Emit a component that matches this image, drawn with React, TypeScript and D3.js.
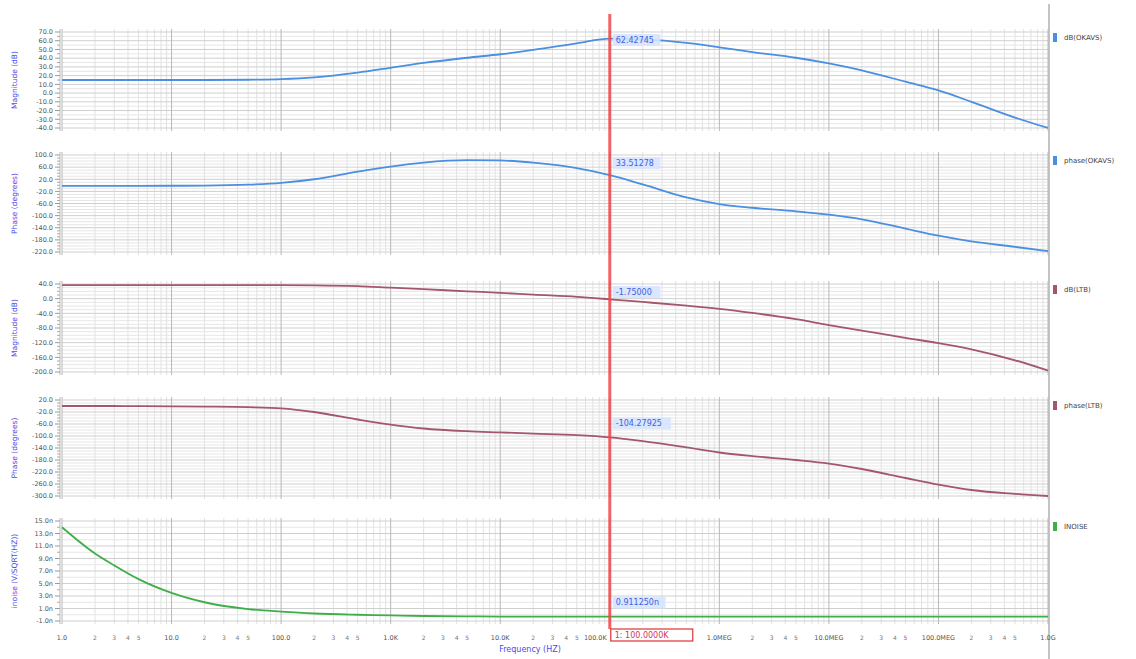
import React from "react";
import * as d3 from "d3";

const freqs = [1, 2, 3, 5, 10, 20, 50, 100, 200, 500, 1e3, 2e3, 5e3, 1e4, 2e4, 5e4, 1e5, 2e5, 5e5, 1e6, 2e6, 5e6, 1e7, 2e7, 5e7, 1e8, 2e8, 5e8, 1e9];

const magOKAVS = [15, 15, 15, 15, 15, 15, 15.3, 16, 18, 23.5, 29, 34.5, 40.5, 44.5, 49.5, 57, 62.4, 61.5, 57.5, 52.5, 47, 40.5, 34, 26, 13, 3, -10, -28, -40];
const phaseOKAVS = [-2, -2, -2, -2, -1.5, -1, 2, 8, 20, 45, 62, 75, 83, 82, 75, 57, 33.5, 3, -40, -62, -74, -86, -97, -112, -143, -166, -185, -203, -217];
const magLTB = [37, 37, 37, 37, 37, 37, 37, 37, 36.5, 34, 30, 26, 20, 16, 11, 5, -1.75, -9, -19, -28, -39, -56, -72, -87, -107, -121, -138, -168, -196];
const phaseLTB = [0, 0, 0, -0.5, -1, -2, -4, -8, -20, -45, -62, -75, -84, -88, -92, -97, -104.3, -117, -138, -155, -167, -180, -192, -210, -240, -262, -280, -293, -300];
const inoise = [14.0, 9.8, 7.9, 5.7, 3.5, 2.0, 0.9, 0.5, 0.2, 0.0, -0.1, -0.2, -0.25, -0.3, -0.3, -0.3, -0.3, -0.3, -0.3, -0.3, -0.3, -0.3, -0.3, -0.3, -0.3, -0.3, -0.3, -0.3, -0.3];

const decadeLabels = ["1.0", "10.0", "100.0", "1.0K", "10.0K", "100.0K", "1.0MEG", "10.0MEG", "100.0MEG", "1.0G"];
const minorLabels = ["2", "3", "4", "5"];

const panels = [
  { title: "Magnitude (dB)", legend: "dB(OKAVS)", color: "#4a8fe0", values: magOKAVS, ticks: [70, 60, 50, 40, 30, 20, 10, 0, -10, -20, -30, -40], fmt: (v: number) => v.toFixed(1), minorDiv: 2, top: 32, bottom: 128, cursor: "62.42745" },
  { title: "Phase (degrees)", legend: "phase(OKAVS)", color: "#4a8fe0", values: phaseOKAVS, ticks: [100, 60, 20, -20, -60, -100, -140, -180, -220], fmt: (v: number) => v.toFixed(1), minorDiv: 4, top: 155, bottom: 252, cursor: "33.51278" },
  { title: "Magnitude (dB)", legend: "dB(LTB)", color: "#a4566a", values: magLTB, ticks: [40, 0, -40, -80, -120, -160, -200], fmt: (v: number) => v.toFixed(1), minorDiv: 4, top: 284, bottom: 372, cursor: "-1.75000" },
  { title: "Phase (degrees)", legend: "phase(LTB)", color: "#a4566a", values: phaseLTB, ticks: [20, -20, -60, -100, -140, -180, -220, -260, -300], fmt: (v: number) => v.toFixed(1), minorDiv: 4, top: 400, bottom: 496, cursor: "-104.27925" },
  { title: "inoise (V/SQRT(HZ))", legend: "INOISE", color: "#3fae4a", values: inoise, ticks: [15, 13, 11, 9, 7, 5, 3, 1, -1], fmt: (v: number) => v.toFixed(1) + "n", minorDiv: 2, top: 521, bottom: 621, cursor: "0.911250n" },
];

const X0 = 62;
const X1 = 1048;
const cursorFreq = 1e5;

export default function App() {
  const x = d3.scaleLog().domain([1, 1e9]).range([X0, X1]);
  const decades = d3.range(0, 10).map((e) => Math.pow(10, e));
  const minors: number[] = [];
  decades.slice(0, 9).forEach((d) => {
    for (let m = 2; m <= 9; m++) minors.push(d * m);
  });
  const cx = x(cursorFreq);

  return (
    <svg width={1136} height={659} style={{ position: "absolute", left: 0, top: 0, background: "#fff" }} fontFamily="DejaVu Sans, sans-serif">
      <line x1={1049} x2={1049} y1={4} y2={659} stroke="#c4c4c4" strokeWidth={2} />
      {panels.map((p, i) => {
        const lo = p.ticks[p.ticks.length - 1];
        const hi = p.ticks[0];
        const y = d3.scaleLinear().domain([lo, hi]).range([p.bottom, p.top]);
        const step = p.ticks[0] - p.ticks[1];
        const minorY: number[] = [];
        for (let k = 0; k < p.ticks.length - 1; k++) {
          for (let j = 1; j < p.minorDiv; j++) minorY.push(p.ticks[k] - (step * j) / p.minorDiv);
        }
        const line = d3
          .line<number>()
          .x((_, k) => x(freqs[k]))
          .y((v) => y(Math.max(lo, Math.min(hi, v))))
          .curve(d3.curveMonotoneX);
        const idx = freqs.indexOf(cursorFreq);
        const cy = y(p.values[idx]);
        const ly = Math.max(p.top + 8, cy - 14);
        const top = p.top - 3;
        const bot = p.bottom + 3;
        return (
          <g key={i}>
            {minors.map((f, k) => (
              <line key={"vm" + k} x1={x(f)} x2={x(f)} y1={top} y2={bot} stroke="#e2e2e2" strokeWidth={1} />
            ))}
            {minorY.map((v, k) => (
              <line key={"hm" + k} x1={X0} x2={X1} y1={y(v)} y2={y(v)} stroke="#e6e6e6" strokeWidth={1} />
            ))}
            {p.ticks.map((v, k) => (
              <line key={"hM" + k} x1={X0} x2={X1} y1={y(v)} y2={y(v)} stroke="#cfcfcf" strokeWidth={1} />
            ))}
            {decades.map((f, k) => (
              <line key={"vM" + k} x1={x(f)} x2={x(f)} y1={top} y2={bot} stroke="#b8b8b8" strokeWidth={1} />
            ))}
            <line x1={X0 - 2} x2={X0 - 2} y1={top} y2={bot} stroke="#bbb" />
            {p.ticks.map((v, k) => (
              <g key={"t" + k}>
                <line x1={X0 - 7} x2={X0 - 2} y1={y(v)} y2={y(v)} stroke="#999" />
                <text x={X0 - 9} y={y(v)} dy="0.35em" textAnchor="end" fontSize={6.5} fill="#555">
                  {p.fmt(v)}
                </text>
              </g>
            ))}
            {minorY.map((v, k) => (
              <line key={"tm" + k} x1={X0 - 5} x2={X0 - 2} y1={y(v)} y2={y(v)} stroke="#aaa" />
            ))}
            <text transform={`translate(17,${(p.top + p.bottom) / 2}) rotate(-90)`} textAnchor="middle" fontSize={7.5} fill="#4a4ae8">
              {p.title}
            </text>
            <path d={line(p.values) || ""} fill="none" stroke={p.color} strokeWidth={1.8} />
            <rect x={1053} y={p.top + 1} width={4} height={9} fill={p.color} />
            <text x={1064} y={p.top + 5.5} dy="0.35em" fontSize={7} fill="#444">
              {p.legend}
            </text>
            <rect x={cx + 3} y={ly - 6} width={p.cursor.length * 5.2 + 6} height={12} fill="#d6e4ff" opacity={0.9} />
            <text x={cx + 6} y={ly} dy="0.35em" fontSize={8} fill="#4060e0">
              {p.cursor}
            </text>
          </g>
        );
      })}
      {decades.map((f, k) =>
        f === cursorFreq ? (
          <text key={"xl" + k} x={x(f) - 3} y={638} dy="0.35em" textAnchor="end" fontSize={6.5} fill="#555">
            {decadeLabels[k]}
          </text>
        ) : (
          <text key={"xl" + k} x={x(f)} y={638} dy="0.35em" textAnchor="middle" fontSize={6.5} fill="#555">
            {decadeLabels[k]}
          </text>
        )
      )}
      {decades.slice(0, 9).filter((d) => d !== cursorFreq).map((d, k) =>
        minorLabels.map((m, j) => (
          <text key={"ml" + k + "_" + j} x={x(d * +m)} y={638} dy="0.35em" textAnchor="middle" fontSize={6} fill="#777">
            {m}
          </text>
        ))
      )}
      <text x={530} y={649} dy="0.35em" textAnchor="middle" fontSize={8} fill="#4a4ae8">
        Frequency (HZ)
      </text>
      <line x1={cx} x2={cx} y1={14} y2={629} stroke="#f04848" strokeWidth={3} opacity={0.85} />
      <rect x={cx + 1} y={629} width={82} height={12} fill="#fff" stroke="#e03030" strokeWidth={1.2} />
      <text x={cx + 5} y={635} dy="0.35em" fontSize={8} fill="#d03858">
        1: 100.0000K
      </text>
    </svg>
  );
}
